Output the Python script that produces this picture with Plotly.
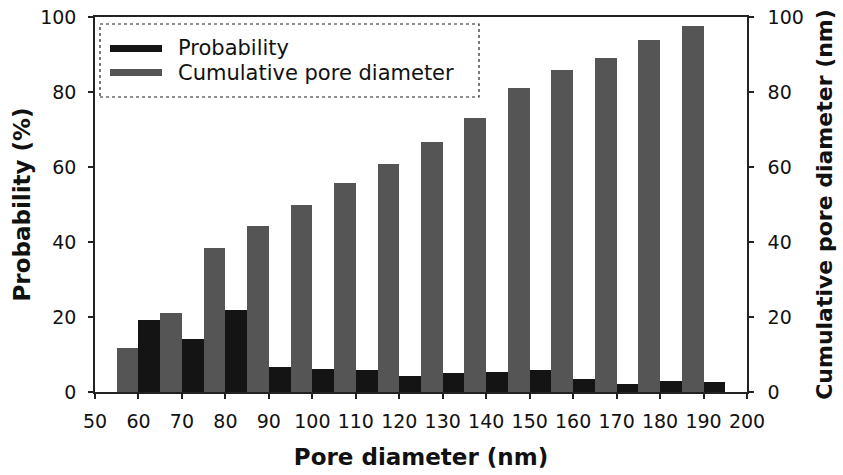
import plotly.graph_objects as go

# Data
pore_diameter = [60, 70, 80, 90, 100, 110, 120, 130, 140, 150, 160, 170, 180, 190]
probability = [19.3, 14.2, 21.8, 6.7, 6.2, 5.8, 4.4, 5.0, 5.4, 5.8, 3.5, 2.2, 3.0, 2.6]
cumulative = [11.8, 21.2, 38.4, 44.2, 50.0, 55.8, 60.7, 66.7, 73.2, 81.2, 86.0, 89.2, 93.8, 97.6]
x_ticks = list(range(50, 201, 10))
y_ticks = [0, 20, 40, 60, 80, 100]

DARK = "#141414"
GRAY = "#555555"
AXIS = "#222222"
TXT = "#111111"
FONT = "DejaVu Sans, Verdana, sans-serif"

fig = go.Figure()
fig.add_trace(go.Bar(
    x=pore_diameter, y=cumulative, name="Cumulative pore diameter",
    width=5, offset=-5, marker=dict(color=GRAY, line=dict(width=0)),
    yaxis="y2", showlegend=False,
))
fig.add_trace(go.Bar(
    x=pore_diameter, y=probability, name="Probability",
    width=5, offset=0, marker=dict(color=DARK, line=dict(width=0)),
    showlegend=False,
))

# Legend drawn to match the reference's wide flat swatches
W, H = 843, 475
L, R, T, B = 95, 96, 17, 83
pw, ph = W - L - R, H - T - B

def px(x):
    return (x - L) / pw

def py(y):
    return (H - B - y) / ph

shapes = [
    dict(type="rect", xref="paper", yref="paper", x0=px(100), x1=px(479), y0=py(97), y1=py(24),
         line=dict(color=AXIS, width=1.2, dash="dot"), fillcolor="white", layer="above"),
    dict(type="rect", xref="paper", yref="paper", x0=px(110), x1=px(162), y0=py(52), y1=py(45),
         line=dict(width=0), fillcolor=DARK, layer="above"),
    dict(type="rect", xref="paper", yref="paper", x0=px(110), x1=px(162), y0=py(76), y1=py(69),
         line=dict(width=0), fillcolor=GRAY, layer="above"),
]
legend_labels = ["Probability", "Cumulative pore diameter"]
annotations = [
    dict(text=legend_labels[0], xref="paper", yref="paper", x=px(176), y=py(48), xanchor="left",
         yanchor="middle", showarrow=False, font=dict(size=21, family=FONT, color=TXT)),
    dict(text=legend_labels[1], xref="paper", yref="paper", x=px(176), y=py(73), xanchor="left",
         yanchor="middle", showarrow=False, font=dict(size=21, family=FONT, color=TXT)),
]

axis_common = dict(showline=True, linecolor=AXIS, linewidth=1.5, ticks="outside", ticklen=5,
                   tickcolor=AXIS, tickwidth=1.5, showgrid=False, zeroline=False,
                   tickfont=dict(size=19, family=FONT, color=TXT))

fig.update_layout(
    width=W, height=H,
    margin=dict(l=L, r=R, t=T, b=B, autoexpand=False),
    paper_bgcolor="white", plot_bgcolor="white",
    barmode="overlay", bargap=0,
    shapes=shapes, annotations=annotations,
    xaxis=dict(range=[50, 200], tickvals=x_ticks, mirror=True, ticklabelstandoff=6,
               title=dict(text="<b>Pore diameter (nm)</b>", standoff=18,
                          font=dict(size=23, family=FONT, color=TXT)),
               **axis_common),
    yaxis=dict(range=[0, 100], tickvals=y_ticks, ticklabelstandoff=8,
               title=dict(text="<b>Probability (%)</b>", standoff=3,
                          font=dict(size=23, family=FONT, color=TXT)),
               **axis_common),
    yaxis2=dict(range=[0, 100], tickvals=y_ticks, overlaying="y", side="right", ticklabelstandoff=10,
                title=dict(text="<b>Cumulative pore diameter (nm)</b>", standoff=14,
                           font=dict(size=22, family=FONT, color=TXT)),
                **axis_common),
)

fig.write_html("out.html")
